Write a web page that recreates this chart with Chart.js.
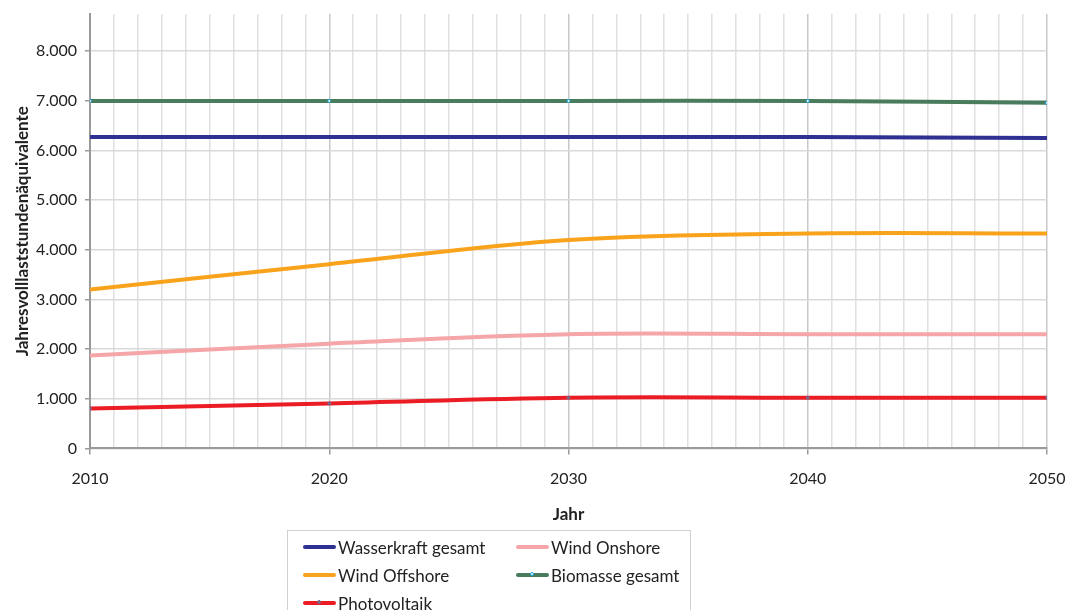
<!DOCTYPE html>
<html>
<head>
<meta charset="utf-8">
<script src="https://cdn.jsdelivr.net/npm/chart.js@4.4.1/dist/chart.umd.min.js"></script>
<style>
  html, body { margin: 0; padding: 0; background: #fff; }
  #wrap { position: relative; width: 1066px; height: 610px; }
  #legend {
    position: absolute; left: 287px; top: 530px; width: 404px; height: 90px;
    border: 1px solid #d0d0d0; box-sizing: border-box;
    font-family: Lato, "Open Sans", sans-serif; font-size: 17px; color: #222;
  }
  .item { position: absolute; display: flex; align-items: center; height: 20px; }
  .sw { width: 33px; height: 4px; border-radius: 2px; margin-right: 2px; position: relative; }
  .dot { position: absolute; left: 14px; top: -1px; width: 4px; height: 4px; border-radius: 3px; box-sizing: border-box; }
</style>
</head>
<body>
<div id="wrap">
  <canvas id="c" width="1066" height="610"></canvas>
  <div id="legend"></div>
</div>
<script>
const years = [2010, 2020, 2030, 2040, 2050];
const labels = ['Wasserkraft gesamt', 'Wind Onshore', 'Wind Offshore', 'Biomasse gesamt', 'Photovoltaik'];
const wasserkraft = [6270, 6270, 6270, 6270, 6250];
const windOnshore = [1870, 2110, 2300, 2300, 2300];
const windOffshore = [3200, 3710, 4200, 4330, 4330];
const biomasse = [7000, 7000, 7000, 7000, 6960];
const photovoltaik = [805, 905, 1020, 1020, 1020];
const yTicks = [0, 1000, 2000, 3000, 4000, 5000, 6000, 7000, 8000];

const colors = ['#2e3192', '#f4a6a9', '#f8a31b', '#487c5c', '#ec1c24'];
const series = [wasserkraft, windOnshore, windOffshore, biomasse, photovoltaik];
const markers = [null, null, null, '#12a3dc', '#7a6688'];

function fmt(v) {
  return String(v).replace(/\B(?=(\d{3})+(?!\d))/g, '.');
}

const datasets = series.map((vals, i) => ({
  label: labels[i],
  data: vals.map((v, j) => ({ x: years[j], y: v })),
  borderColor: colors[i],
  backgroundColor: colors[i],
  borderWidth: 4,
  tension: 0.35,
  pointRadius: markers[i] ? 1.5 : 0,
  pointBorderColor: markers[i] || colors[i],
  pointBackgroundColor: i === 3 ? '#ffffff' : (markers[i] || colors[i]),
  pointBorderWidth: 1
}));

new Chart(document.getElementById('c'), {
  type: 'line',
  data: { datasets: datasets },
  options: {
    responsive: false,
    animation: false,
    layout: { padding: { top: 14, right: 19, bottom: 81, left: 8 } },
    plugins: { legend: { display: false }, tooltip: { enabled: false } },
    scales: {
      x: {
        type: 'linear', min: 2010, max: 2050,
        afterFit: s => { s.paddingLeft = 0; s.paddingRight = 0; },
        ticks: {
          stepSize: 1, autoSkip: false, maxRotation: 0, padding: 15,
          color: '#222', font: { family: 'Lato, "Open Sans", sans-serif', size: 16 },
          callback: v => (v % 10 === 0 ? String(v) : '')
        },
        grid: {
          color: ctx => (ctx.tick && ctx.tick.value % 10 === 0 ? '#c8c8c8' : '#e0e0e0'),
          lineWidth: 1.5,
          tickLength: 6,
          tickColor: ctx => (ctx.tick && ctx.tick.value % 10 === 0 ? '#9a9a9a' : 'rgba(0,0,0,0)')
        },
        border: { color: '#9a9a9a', width: 2 },
        title: {
          display: true, text: 'Jahr', color: '#222', padding: { top: 1 },
          font: { family: 'Lato, "Open Sans", sans-serif', size: 17, weight: 'bold' }
        }
      },
      y: {
        min: 0, max: 8750,
        afterBuildTicks: s => { s.ticks = yTicks.map(v => ({ value: v })); },
        afterFit: s => { s.width = 82; s.paddingTop = 0; s.paddingBottom = 0; },
        ticks: {
          padding: 8, color: '#222',
          font: { family: 'Lato, "Open Sans", sans-serif', size: 16 },
          callback: v => fmt(v)
        },
        grid: { color: '#d9d9d9', lineWidth: 1.5, tickLength: 5, tickColor: '#9a9a9a' },
        border: { color: '#9a9a9a', width: 2 },
        title: {
          display: true, text: 'Jahresvolllaststundenäquivalente', color: '#222', padding: { bottom: 2 },
          font: { family: 'Lato, "Open Sans", sans-serif', size: 17, weight: 'bold' }
        }
      }
    }
  }
});

// legend box
const legend = document.getElementById('legend');
labels.forEach((name, i) => {
  const col = i % 2, row = Math.floor(i / 2);
  const el = document.createElement('div');
  el.className = 'item';
  el.style.left = (col === 0 ? 15 : 228) + 'px';
  el.style.top = (6 + row * 28) + 'px';
  const sw = document.createElement('div');
  sw.className = 'sw';
  sw.style.background = colors[i];
  if (markers[i]) {
    const d = document.createElement('div');
    d.className = 'dot';
    d.style.border = '1px solid ' + markers[i];
    d.style.background = i === 3 ? '#fff' : markers[i];
    sw.appendChild(d);
  }
  const t = document.createElement('span');
  t.textContent = name;
  el.appendChild(sw);
  el.appendChild(t);
  legend.appendChild(el);
});
</script>
</body>
</html>
